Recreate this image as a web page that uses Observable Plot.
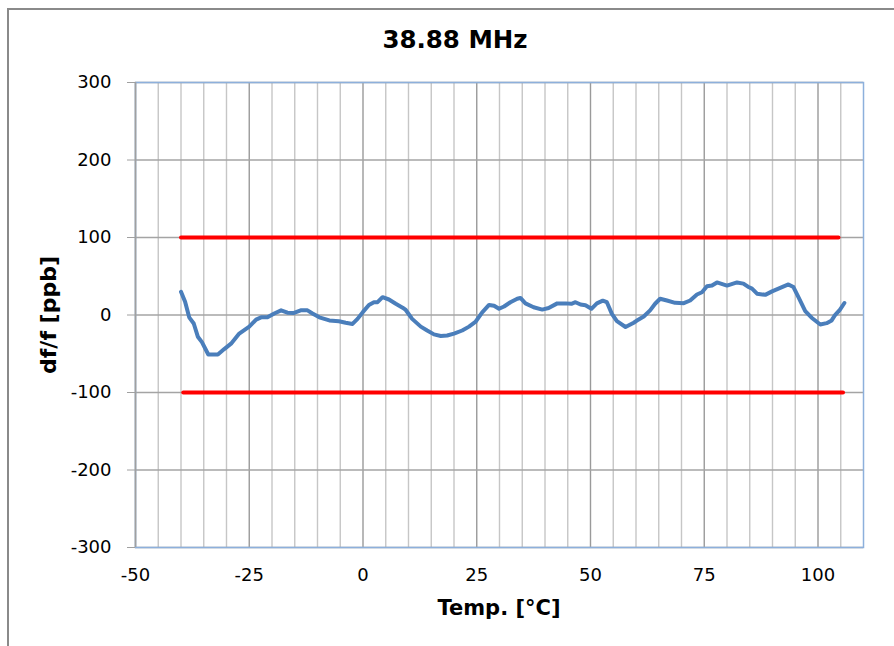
<!DOCTYPE html>
<html>
<head>
<meta charset="utf-8">
<script src="https://cdn.jsdelivr.net/npm/d3@7"></script>
<script src="https://cdn.jsdelivr.net/npm/@observablehq/plot@0.6"></script>
<style>
  html, body { margin: 0; padding: 0; background: #fff; overflow: hidden; }
  #wrap { position: relative; width: 894px; height: 646px; font-family: "DejaVu Sans", Verdana, sans-serif; }
  #border { position: absolute; left: 7px; top: 8px; width: 950px; height: 700px; border: 2px solid #8a8a8a; box-sizing: border-box; }
  #title { position: absolute; left: 0; width: 910px; top: 25px; text-align: center; font-weight: bold; font-size: 24.5px; color: #000; }
  #xlabel { position: absolute; left: 0; width: 998px; top: 596px; text-align: center; font-weight: bold; font-size: 21px; color: #000; }
  #ylabel { position: absolute; left: 48px; top: 315px; transform: translate(-50%, -50%) rotate(-90deg); white-space: nowrap; font-weight: bold; font-size: 22px; color: #000; }
  #chart { position: absolute; left: 0; top: 0; }
</style>
</head>
<body>
<div id="wrap">
  <div id="border"></div>
  <div id="chart"></div>
  <div id="title">38.88 MHz</div>
  <div id="xlabel">Temp. [°C]</div>
  <div id="ylabel">df/f [ppb]</div>
</div>
<script>
// ---- data ----
const xTicks = [-50, -25, 0, 25, 50, 75, 100];
const yTicks = [-300, -200, -100, 0, 100, 200, 300];

const temps = [
  -40, -39.1, -38.2, -37.2, -36.3, -35.4, -34, -31.9, -30.5, -29, -27.2, -25, -23.5, -22.4, -21, -19.5, -18, -16.6,
  -15.3, -13.7, -12.2, -11.1, -9.6, -7.4, -5.3, -3.8, -2.3, -1.2, 0, 1.3, 2.4, 3.2, 4.3, 5.7, 7.2, 8.7, 9.4,
  10.8, 12.7, 14.1, 15.6, 17.1, 18.5, 20, 21.8, 23.3, 24.7, 26.2, 27.7, 28.8, 29.9, 31, 32.4, 33.9, 34.6,
  35.7, 37.5, 39.4, 40.8, 42.7, 44.5, 45.8, 46.7, 47.8, 48.9, 50.2, 51.4, 52.7, 53.6, 54.7, 55.8, 57.7,
  59.5, 60.5, 61.7, 63.1, 64.2, 65.3, 66.8, 68.6, 70.5, 71.9, 73.4, 74.5, 75.6, 76.7, 77.8, 80, 82.2, 83.6,
  84.6, 85.5, 86.6, 88.4, 89.9, 91.7, 93.5, 94.6, 95.7, 97.2, 98.6, 100.5, 101.9, 103, 103.7, 104.8, 105.8
];
const ppb = [
  30, 17, -3, -11, -28, -35, -51, -51, -44, -37, -24, -15, -6, -3, -3, 2, 6, 3,
  2.5, 6, 6, 2, -3, -7, -8, -10, -11.5, -5, 4, 13, 16.5, 16.5, 23, 20, 14.5, 9.5, 6.5,
  -5, -15, -20, -25, -27, -26.5, -24, -20, -15, -9, 3.5, 13, 12, 8, 11, 16.5, 21, 22,
  15, 10, 7, 9, 15, 15, 14.5, 16.5, 13.5, 12.5, 8, 15, 18.5, 16.5, 1.5, -8, -15.5,
  -10, -6, -2, 6, 14.5, 21, 18.7, 15.7, 15.3, 18.7, 26.5, 29.4, 37, 38, 42, 38, 42, 40.5,
  36.5, 34, 27.5, 26, 30.5, 35, 39.5, 36, 23, 5, -3.5, -12.3, -10.5, -7, -0.5, 6.7, 15.5
];
const upperLimitX = [-40, 104.5];
const upperLimitY = [100, 100];
const lowerLimitX = [-39.5, 105.5];
const lowerLimitY = [-100, -100];

// ---- build tables ----
const curve = temps.map((t, i) => ({x: t, y: ppb[i]}));
const upper = upperLimitX.map((t, i) => ({x: t, y: upperLimitY[i]}));
const lower = lowerLimitX.map((t, i) => ({x: t, y: lowerLimitY[i]}));
const minorX = d3.range(-45, 110, 5).filter(v => v % 25 !== 0);
const fmt = d => String(d);

const chart = Plot.plot({
  width: 894,
  height: 646,
  marginLeft: 135,
  marginRight: 31,
  marginTop: 82,
  marginBottom: 99,
  style: {fontFamily: '"DejaVu Sans", Verdana, sans-serif', fontSize: "18px", color: "#000", background: "transparent"},
  x: {domain: [-50, 110]},
  y: {domain: [-300, 300]},
  marks: [
    Plot.ruleX(minorX, {stroke: "#c6c6c6", strokeWidth: 1.4}),
    Plot.ruleX(xTicks, {stroke: "#9a9a9a", strokeWidth: 1.4}),
    Plot.ruleY(yTicks, {stroke: "#a4a4a4", strokeWidth: 1.5}),
    Plot.frame({stroke: "#8db0dc", strokeWidth: 1.5}),
    Plot.ruleX([-50], {stroke: "#a0a0a0", strokeWidth: 1.5}),
    Plot.axisY(yTicks, {tickSize: 8, tickPadding: 16, fontSize: 18, label: null, stroke: "#a0a0a0", tickFormat: fmt}),
    Plot.axisX(xTicks, {tickSize: 0, tickPadding: 21, fontSize: 18, label: null, tickFormat: fmt}),
    Plot.line(upper, {x: "x", y: "y", stroke: "#ff0000", strokeWidth: 4}),
    Plot.line(lower, {x: "x", y: "y", stroke: "#ff0000", strokeWidth: 4}),
    Plot.line(curve, {x: "x", y: "y", stroke: "#4a7ebb", strokeWidth: 4, strokeLinejoin: "round", strokeLinecap: "round"})
  ]
});
document.getElementById("chart").appendChild(chart);
</script>
</body>
</html>
